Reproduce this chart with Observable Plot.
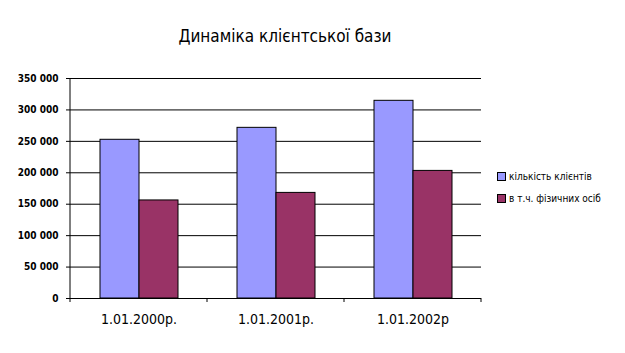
<!DOCTYPE html>
<html><head><meta charset="utf-8">
<script src="https://cdn.jsdelivr.net/npm/d3@7"></script>
<script src="https://cdn.jsdelivr.net/npm/@observablehq/plot@0.6"></script>
<style>
body{margin:0;background:#fff}
#wrap{position:relative;width:625px;height:353px;font-family:"Liberation Sans Narrow","DejaVu Sans Condensed","Liberation Sans",Arial,sans-serif;color:#000}
#chart{position:absolute;left:0;top:0}
#title{position:absolute;left:0;width:570px;top:26px;text-align:center;font-size:17px;white-space:nowrap}
#legend{position:absolute;left:497px;top:171px;font-size:10px}
.li{display:flex;align-items:center;height:11px;margin-bottom:11px;white-space:nowrap}
.sw{width:7px;height:7px;border:1px solid #000;margin-right:3px}
</style>
</head><body>
<div id="wrap">
  <div id="chart"></div>
  <div id="title">Динаміка клієнтської бази</div>
  <div id="legend"></div>
</div>
<script>
const categories = ["1.01.2000р.", "1.01.2001р.", "1.01.2002р"];
const seriesNames = ["кількість клієнтів", "в т.ч. фізичних осіб"];
const clients = [252500, 271500, 314500];
const individuals = [156000, 168000, 203000];
const yTicks = [0, 50000, 100000, 150000, 200000, 250000, 300000, 350000];
const colors = ["#9999FF", "#993366"];

const rows = [];
categories.forEach((c, i) => {
  rows.push({cat: c, series: seriesNames[0], value: clients[i]});
  rows.push({cat: c, series: seriesNames[1], value: individuals[i]});
});
const fmt = d => d3.format(",")(d).replace(/,/g, " ");
const fontFam = '"Liberation Sans Narrow","DejaVu Sans Condensed","Liberation Sans",Arial,sans-serif';

const plot = Plot.plot({
  width: 625, height: 353,
  marginTop: 78, marginBottom: 55, marginLeft: 70, marginRight: 144,
  style: {fontFamily: fontFam, background: "white", color: "black"},
  fx: {domain: categories, padding: 0, label: null},
  x: {domain: seriesNames, paddingInner: 0, paddingOuter: 0.734, axis: null},
  y: {domain: [0, 350000], label: null},
  color: {domain: seriesNames, range: colors},
  marks: [
    Plot.ruleY(yTicks, {stroke: "black", strokeWidth: 1}),
    Plot.barY(rows, {fx: "cat", x: "series", y: "value", fill: "series", stroke: "black", strokeWidth: 1}),
    Plot.axisY({ticks: yTicks, tickFormat: fmt, tickSize: 4, tickPadding: 8, fontSize: 10, fontWeight: "bold", label: null, stroke: "black"}),
    Plot.axisFx({anchor: "bottom", tickSize: 0, tickPadding: 16, fontSize: 14, label: null})
  ]
});
document.getElementById("chart").appendChild(plot);

// y axis line and category boundary ticks from the library's scales
const fx = plot.scale("fx"), y = plot.scale("y");
const svg = d3.select(plot);
const bounds = categories.map(c => fx.apply(c)).concat([fx.apply(categories[categories.length - 1]) + fx.bandwidth]);
svg.append("line").attr("x1", bounds[0]).attr("x2", bounds[0])
  .attr("y1", y.apply(350000)).attr("y2", y.apply(0)).attr("stroke", "black");
bounds.forEach(b => svg.append("line").attr("x1", b).attr("x2", b)
  .attr("y1", y.apply(0)).attr("y2", y.apply(0) + 4).attr("stroke", "black"));

const lg = d3.select("#legend");
seriesNames.forEach((s, i) => {
  const it = lg.append("div").attr("class", "li");
  it.append("div").attr("class", "sw").style("background", colors[i]);
  it.append("span").text(s);
});
</script>
</body></html>
